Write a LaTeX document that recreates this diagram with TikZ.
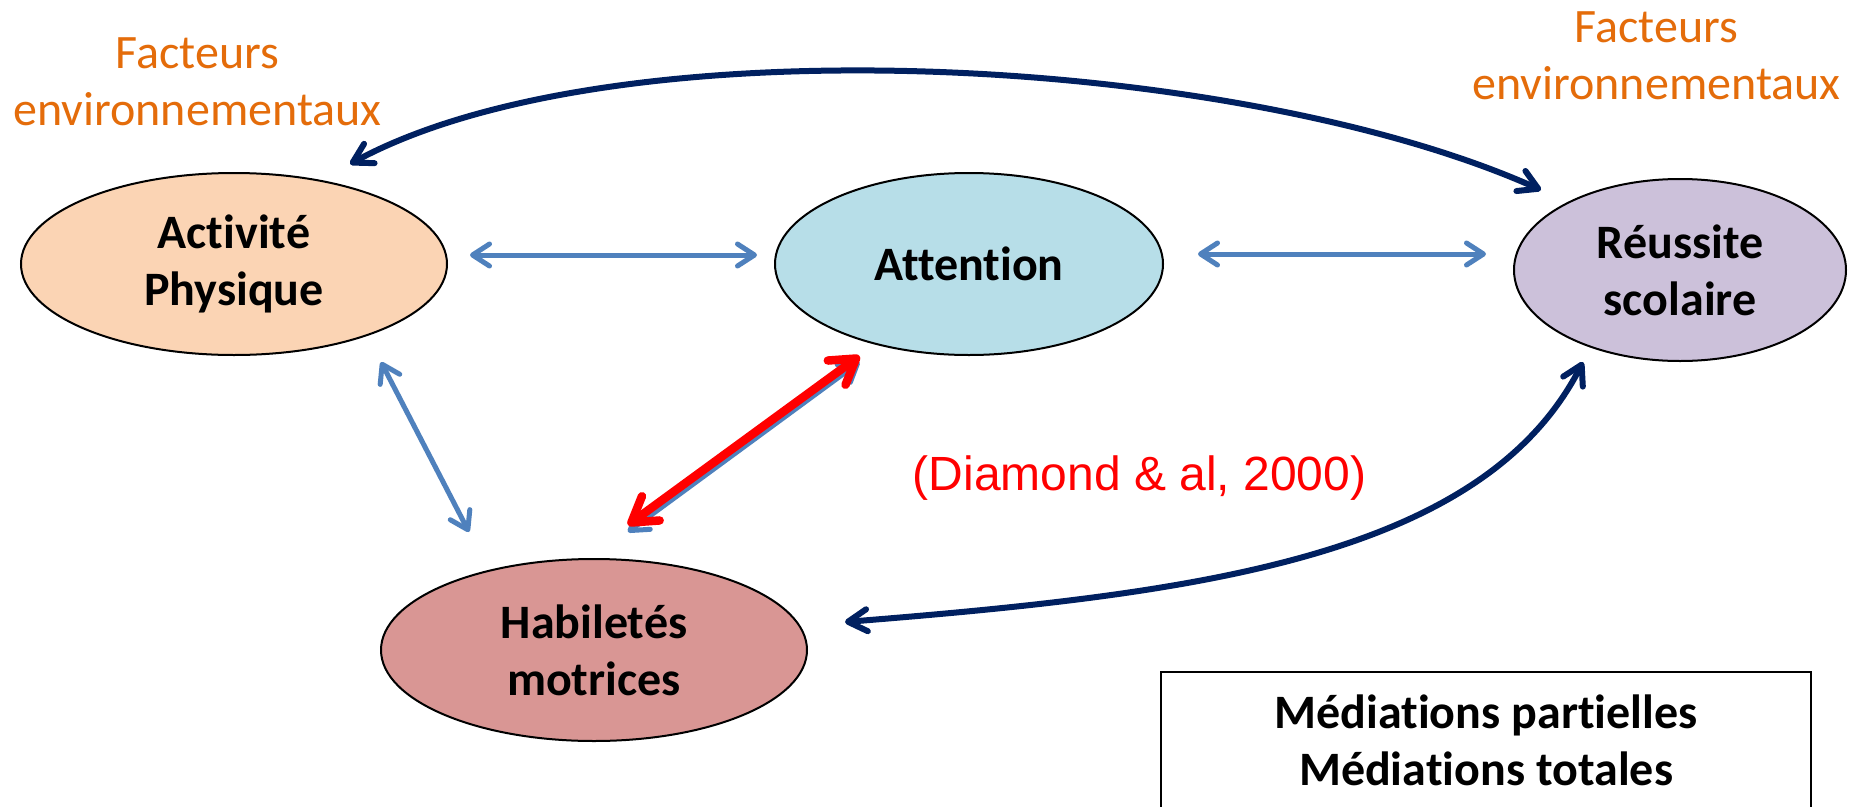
\documentclass[tikz,border=0pt]{standalone}
\usepackage{fontspec}
\setmainfont{Carlito}[Ligatures={NoCommon,NoContextual}]
\newfontfamily\arialfont{Liberation Sans}
\usetikzlibrary{shapes.geometric,arrows.meta}
\definecolor{apfill}{HTML}{FBD4B4}
\definecolor{attfill}{HTML}{B7DEE8}
\definecolor{reufill}{HTML}{CCC1DA}
\definecolor{habfill}{HTML}{D99694}
\definecolor{envorange}{HTML}{E46C0A}
\definecolor{navy}{HTML}{002060}
\definecolor{arrblue}{HTML}{4F81BD}
\definecolor{arrred}{HTML}{FF0000}
\tikzset{
  ell/.style={ellipse, draw=black, line width=2pt, inner sep=0pt, outer sep=0pt,
    align=center, font=\bfseries\fontsize{48}{57}\selectfont},
  envtext/.style={align=center, text=envorange, inner sep=0pt,
    font=\fontsize{48}{57}\selectfont},
  bluearr/.style={draw=arrblue, line width=5pt, <->,
    >={Straight Barb[length=17pt,width=22pt,round]}},
  redarr/.style={draw=arrred, line width=8.5pt, <->,
    >={Straight Barb[length=24pt,width=30pt,round]}},
  navyarr/.style={draw=navy, line width=6pt, <->,
    >={Straight Barb[length=19pt,width=22pt,round]}},
  mediabox/.style={draw=black, line width=2.5pt, inner sep=0pt, align=center,
    font=\bfseries\fontsize{48}{57}\selectfont}
}
\begin{document}
\begin{tikzpicture}[x=1pt,y=-1pt]
\useasboundingbox (0,0) rectangle (1861,806);
\fill[white] (0,0) rectangle (1861,806);

\node[ell, fill=apfill, minimum width=426pt, minimum height=182pt] (ap) at (234,264) {Activité\\Physique};
\node[ell, fill=attfill, minimum width=388pt, minimum height=182pt] (att) at (969,264) {Attention};
\node[ell, fill=reufill, minimum width=332pt, minimum height=182pt] (reu) at (1680,270) {Réussite\\scolaire};
\node[ell, fill=habfill, minimum width=426pt, minimum height=182pt] (hab) at (594,650) {Habiletés\\motrices};

\node[envtext] (envL) at (197.5,81.5) {Facteurs\\environnementaux};
\node[envtext] (envR) at (1656.5,55.5) {Facteurs\\environnementaux};

\node[text=arrred, anchor=base, inner sep=0pt, font=\arialfont\fontsize{48}{57}\selectfont] (cite) at (1139.5,490) {(Diamond \& al, 2000)};

\node[mediabox, minimum width=650pt, minimum height=137pt] (box) at (1486,740.5) {Médiations partielles\\Médiations totales};

\draw[bluearr] ([shift={(23,-9)}]ap.east) -- ([shift={(-18,-9)}]att.west);
\draw[bluearr] ([shift={(35,-10)}]att.east) -- ([shift={(-28,-16)}]reu.west);
\draw[bluearr] ([shift={(147,7)}]ap.south) -- ([shift={(-125,-27)}]hab.north);
\draw[bluearr] ([shift={(-109.5,7)}]att.south) -- ([shift={(34,-27)}]hab.north);
\draw[redarr] ([shift={(-109.5,1)}]att.south) -- ([shift={(34,-34)}]hab.north);

\draw[navyarr] ([shift={(116,-9)}]ap.north) .. controls (615,20) and (1240,55) .. ([shift={(-139,11)}]reu.north);
\draw[navyarr] ([shift={(38,-28)}]hab.east) .. controls (1195,594) and (1483,558) .. ([shift={(-97,1)}]reu.south);
\end{tikzpicture}
\end{document}
